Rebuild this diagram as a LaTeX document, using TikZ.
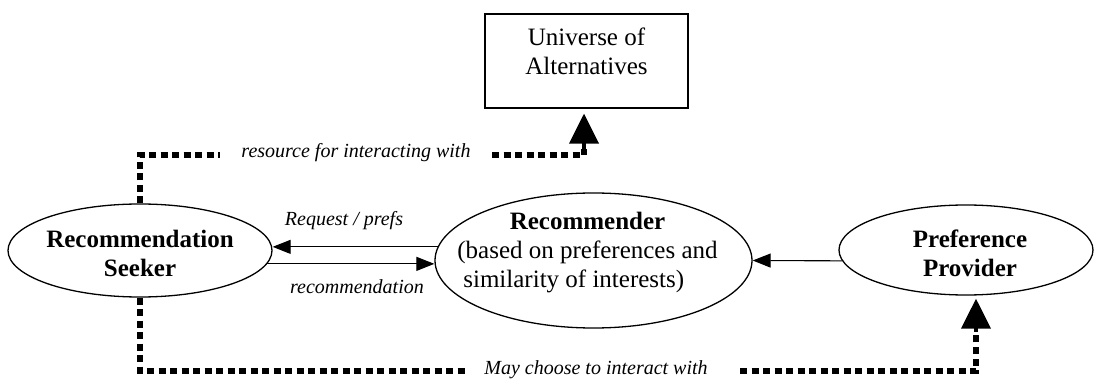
\documentclass[tikz,border=0pt]{standalone}
\usepackage{fontspec}
\setmainfont{Liberation Serif}
\usetikzlibrary{shapes.geometric,arrows.meta}
\begin{document}
\begin{tikzpicture}[x=1pt,y=-1pt,
  bigfont/.style={font=\fontsize{25}{29}\selectfont},
  lbl/.style={font=\fontsize{20}{24}\selectfont\itshape, anchor=base, inner sep=0pt},
  ell/.style={ellipse, draw, line width=1.3pt, inner sep=0pt, text height=0pt, text depth=0pt, bigfont},
  boxnode/.style={rectangle, draw, line width=1.2pt, inner sep=0pt, text height=0pt, text depth=0pt, bigfont},
  smallarrow/.style={line width=1.1pt, -{Triangle[length=18pt,width=14pt]}},
  dotline/.style={line width=6.5pt, dash pattern=on 7pt off 4.5pt},
  bigarrow/.style={line width=4pt, -{Triangle[length=30pt,width=29pt]}}]
\useasboundingbox (0,0) rectangle (1095,379);

% nodes
\node[boxnode, minimum width=203pt, minimum height=94pt] (uni) at (586.5,61)
  {\raisebox{15pt}{\makebox[0pt]{\begin{tabular}[t]{@{}c@{}}Universe of\\Alternatives\end{tabular}}}};
\node[ell, minimum width=264pt, minimum height=93pt] (seek) at (140,250.5)
  {\raisebox{2.5pt}{\makebox[0pt]{\begin{tabular}[t]{@{}c@{}}\bfseries Recommendation\\\bfseries Seeker\end{tabular}}}};
\node[ell, minimum width=317pt, minimum height=135pt] (rec) at (593.5,260.5)
  {\raisebox{30.5pt}{\makebox[0pt]{\hspace*{-12pt}\begin{tabular}[t]{@{}l@{}}\multicolumn{1}{@{}c@{}}{\bfseries Recommender}\\(based on preferences and\\\hspace*{6pt}similarity of interests)\end{tabular}}}};
\node[ell, minimum width=254pt, minimum height=90pt] (prov) at (966,250)
  {\raisebox{2pt}{\makebox[0pt]{\hspace*{8pt}\begin{tabular}[t]{@{}c@{}}\bfseries Preference\\\bfseries Provider\end{tabular}}}};

% free ends of the dotted connectors
\coordinate (a1) at (220,155);
\coordinate (a2) at (492,155);
\coordinate (a3) at (584,149);
\coordinate (b1) at (467,371);
\coordinate (b2) at (740,371);
\coordinate (b3) at (976,332);

% dotted connectors
\draw[dotline] (seek.north) |- (a1);
\draw[dotline] (a2) -| (a3);
\draw[bigarrow, shorten >=5pt] (a3) -- (a3 |- uni.south);
\node[lbl] (t1) at (356,158) {resource for interacting with};

\draw[dotline] (seek.south) |- (b1);
\draw[dotline] (b2) -| (b3);
\draw[bigarrow, shorten >=3pt] (b3) -- (b3 |- prov.south);
\node[lbl] (t2) at (596,374) {May choose to interact with};

% solid connectors
\draw[smallarrow] (rec.175) -- (seek.east |- rec.175);
\draw[smallarrow] (seek.-6) -- (rec.west |- seek.-6);
\draw[smallarrow] (prov.185) -- (rec.east);
\node[lbl] (t3) at (344,226) {Request / prefs};
\node[lbl] (t4) at (357,294) {recommendation};
\end{tikzpicture}
\end{document}
